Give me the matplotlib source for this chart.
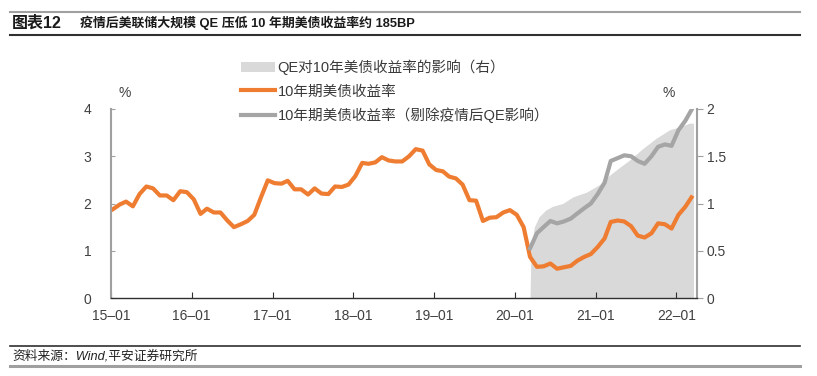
import numpy as np
import pandas as pd
import matplotlib
matplotlib.use("Agg")
import matplotlib.pyplot as plt
import matplotlib.dates as mdates
from matplotlib.patches import Patch
from matplotlib.lines import Line2D

plt.rcParams['font.family'] = ['Liberation Sans', 'Noto Sans CJK SC', 'DejaVu Sans']

# monthly 10y UST yield, 2015-01 .. 2022-03 (%)
ust10y = [1.88, 1.98, 2.04, 1.94, 2.20, 2.36, 2.32, 2.17, 2.17, 2.07, 2.26, 2.24,
          2.09, 1.78, 1.89, 1.81, 1.81, 1.64, 1.50, 1.56, 1.63, 1.76, 2.14, 2.49,
          2.43, 2.42, 2.48, 2.30, 2.30, 2.19, 2.32, 2.21, 2.20, 2.36, 2.35, 2.40,
          2.58, 2.86, 2.84, 2.87, 2.98, 2.91, 2.89, 2.89, 3.00, 3.15, 3.12, 2.83,
          2.71, 2.68, 2.57, 2.53, 2.40, 2.07, 2.06, 1.63, 1.70, 1.71, 1.81, 1.86,
          1.76, 1.50, 0.87, 0.66, 0.67, 0.73, 0.62, 0.65, 0.68, 0.79, 0.87, 0.93,
          1.08, 1.26, 1.61, 1.64, 1.62, 1.52, 1.32, 1.28, 1.37, 1.58, 1.56, 1.47,
          1.76, 1.93, 2.13]
ust_dates = pd.date_range('2015-01-01', periods=len(ust10y), freq='MS') + pd.Timedelta(days=9)

# yield excluding post-covid QE effect, 2020-03 .. 2022-03 (%)
ex_qe = [1.05, 1.37, 1.50, 1.63, 1.58, 1.62, 1.68, 1.79, 1.90, 2.00, 2.20, 2.44,
         2.90, 2.96, 3.02, 3.00, 2.90, 2.84, 3.00, 3.20, 3.25, 3.22, 3.55, 3.75, 3.98]
ex_qe_dates = pd.date_range('2020-03-01', periods=len(ex_qe), freq='MS') + pd.Timedelta(days=9)

# QE effect on 10y yield (right axis, %)
qe_dates = pd.to_datetime(['2020-03-10', '2020-03-14', '2020-03-29', '2020-04-20', '2020-05-20',
                           '2020-06-20', '2020-08-05', '2020-09-20', '2020-11-20', '2021-01-18',
                           '2021-03-05', '2021-04-18', '2021-06-03', '2021-08-01', '2021-10-01',
                           '2021-12-01', '2022-01-15', '2022-03-01', '2022-03-19'])
qe_effect = [0.0, 0.51, 0.75, 0.86, 0.93, 0.97, 1.00, 1.07, 1.12, 1.20,
             1.30, 1.38, 1.46, 1.58, 1.69, 1.78, 1.81, 1.85, 1.85]

labels = ['QE对10年美债收益率的影响（右）', '10年期美债收益率', '10年期美债收益率（剔除疫情后QE影响）']
orange = '#EF7D31'
grey_line = '#A5A5A5'
area_col = '#D9D9D9'
txt = '#404040'

fig = plt.figure(figsize=(8.17, 3.76), dpi=100)
ax = fig.add_axes([111/817, 1-298/376, (697-111)/817, (298-109)/376])
ax2 = ax.twinx()

ax2.fill_between(qe_dates, qe_effect, 0, color=area_col, lw=0)
ax.plot(ust_dates, ust10y, color=orange, lw=3)
ax.plot(ex_qe_dates, ex_qe, color=grey_line, lw=3)

# lines above the shaded area
ax.set_zorder(ax2.get_zorder() + 1)
ax.patch.set_visible(False)

ax.set_xlim(pd.Timestamp('2015-01-01'), pd.Timestamp('2022-04-04'))
ax.set_ylim(0, 4)
ax2.set_ylim(0, 2)
ax.set_yticks([0, 1, 2, 3, 4])
ax2.set_yticks([0, 0.5, 1, 1.5, 2])
ax2.set_yticklabels(['0', '0.5', '1', '1.5', '2'])
ax.xaxis.set_major_locator(mdates.YearLocator())
ax.xaxis.set_major_formatter(mdates.DateFormatter('%y–%m'))

for a in (ax, ax2):
    a.spines['top'].set_visible(False)
ax.spines['right'].set_visible(False)
ax2.spines['left'].set_visible(False)
ax2.spines['bottom'].set_visible(False)
ax.spines['left'].set_color('#A0A0A0')
ax.spines['left'].set_linewidth(1.5)
ax2.spines['right'].set_color('#A0A0A0')
ax2.spines['right'].set_linewidth(1.5)
ax.spines['bottom'].set_color('#303030')
ax.spines['bottom'].set_linewidth(1.0)

ax.tick_params(axis='y', direction='in', length=3, color='#A0A0A0', pad=14, labelsize=10, labelcolor=txt)
ax.tick_params(axis='x', direction='in', length=4, color='#303030', pad=8, labelsize=10, labelcolor=txt)
ax2.tick_params(axis='y', direction='out', length=4, color='#A0A0A0', pad=3, labelsize=10, labelcolor=txt)

fig.text(125/817, 1-93/376, '%', fontsize=10, color=txt, ha='center', va='center')
fig.text(669/817, 1-93/376, '%', fontsize=10, color=txt, ha='center', va='center')

handles = [Patch(facecolor=area_col, edgecolor='none'),
           Line2D([], [], color=orange, lw=3),
           Line2D([], [], color=grey_line, lw=3)]
fig.legend(handles, labels, loc='upper left', bbox_to_anchor=(241/817, 1-60/376),
           frameon=False, fontsize=10.5, handlelength=2.3, handletextpad=0.2,
           labelspacing=0.62, borderaxespad=0, borderpad=0, labelcolor='#3a3a3a')

# header and footer
fig.add_artist(Line2D([10/817, 800/817], [1-12/376, 1-12/376], color='#A0A0A0', lw=1.5))
fig.add_artist(Line2D([10/817, 800/817], [1-35/376, 1-35/376], color='#303030', lw=1.5))
fig.add_artist(Line2D([10/817, 800/817], [1-346/376, 1-346/376], color='#303030', lw=1.2))
fig.add_artist(Line2D([10/817, 800/817], [1-366/376, 1-366/376], color='#A0A0A0', lw=2.2))
fig.text(12/817, 1-23/376, '图表12', fontsize=11.5, fontweight='bold', color='#1a1a1a', va='center')
fig.text(80/817, 1-23/376, '疫情后美联储大规模 QE 压低 10 年期美债收益率约 185BP',
         fontsize=9.3, fontweight='bold', color='#1a1a1a', va='center')
fig.text(12/817, 1-356/376, '资料来源：Wind,平安证券研究所', fontsize=9.2, style='italic',
         color='#222222', va='center')

fig.savefig('out.png', dpi=100)
